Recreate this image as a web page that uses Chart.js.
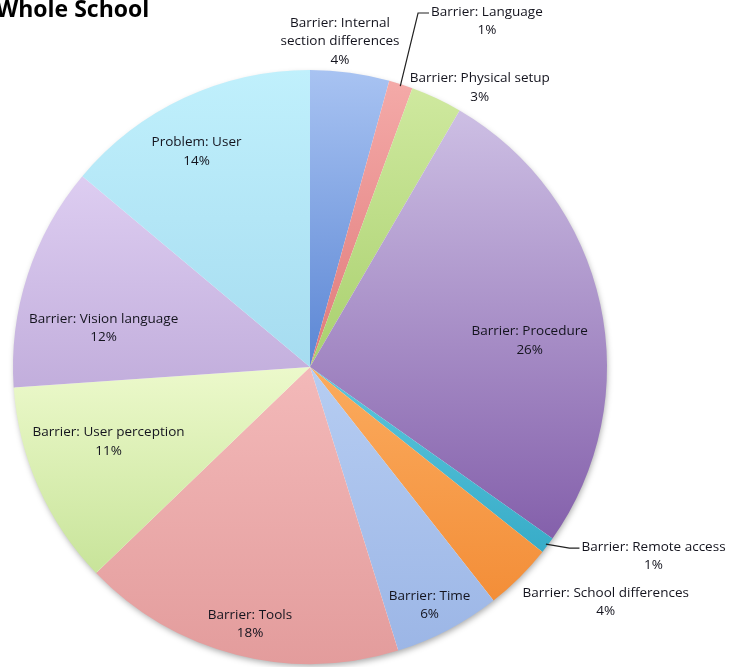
<!DOCTYPE html>
<html lang="en">
<head>
  <meta charset="UTF-8" />
  <title>Whole School</title>
  <script src="https://cdn.jsdelivr.net/npm/chart.js"></script>
  <style>
    html, body {
      margin: 0;
      padding: 0;
      background: #ffffff;
    }

    body {
      width: 732px;
      height: 667px;
      position: relative;
      overflow: hidden;
    }

    .chart-box {
      position: absolute;
      left: 0;
      top: 0;
      width: 732px;
      height: 667px;
    }

    .title {
      position: absolute;
      left: -4px;
      top: -3px;
      font-family: 'Open Sans', sans-serif;
      font-weight: 700;
      font-size: 23px;
      line-height: 23px;
      color: #000;
      white-space: nowrap;
    }
  </style>
</head>
<body>
  <div class="chart-box">
    <canvas id="pieChart" width="732" height="667"></canvas>
  </div>
  <div class="title">Whole School</div>

  <script>
    // Données (parts en %, sens horaire depuis midi)
    const categories = [
      'Barrier: Internal section differences',
      'Barrier: Language',
      'Barrier: Physical setup',
      'Barrier: Procedure',
      'Barrier: Remote access',
      'Barrier: School differences',
      'Barrier: Time',
      'Barrier: Tools',
      'Barrier: User perception',
      'Barrier: Vision language',
      'Problem: User'
    ];
    const shares = [4.3, 1.3, 2.8, 26.4, 0.9, 3.7, 5.8, 17.6, 11.1, 12.2, 13.9];

    // Couleurs : haut (clair) -> bas (foncé) de chaque part
    const lightColors = ['#a8c3f2', '#f4aaa8', '#cfe99f', '#cdbfe4', '#5cc6dc', '#fbab5e',
                         '#b6cdf2', '#f3b9b9', '#ecf9cb', '#ddcdf1', '#c0f0fc'];
    const darkColors  = ['#5b86d4', '#e07a7a', '#a9d06e', '#8460ab', '#38acc8', '#f38e38',
                         '#9cb6e6', '#e39c9c', '#c8e49a', '#c2aedc', '#a6dcf0'];

    // Placement des étiquettes (rayon relatif + décalage en px)
    const labelSpots = [
      { r: 1.10, dx: -14, dy: -2, wrap: 130 },
      { r: 1.00, dx: 86, dy: -63, leader: 13 },
      { r: 1.05, dx: 37, dy: 3 },
      { r: 0.75, dx: 2, dy: 21 },
      { r: 1.00, dx: 106, dy: 11, leader: 12 },
      { r: 1.15, dx: 55, dy: -7 },
      { r: 0.88, dx: -2, dy: 7 },
      { r: 0.88, dx: 5, dy: 4 },
      { r: 0.72, dx: -6, dy: -12 },
      { r: 0.72, dx: -3, dy: 27 },
      { r: 0.80, dx: -13, dy: 0 }
    ];

    const total = shares.reduce((a, b) => a + b, 0);

    function sliceFill(c) {
      const i = c.dataIndex;
      const area = c.chart.chartArea;
      if (!area) return lightColors[i];
      const cx = (area.left + area.right) / 2;
      const cy = (area.top + area.bottom) / 2;
      const R = Math.min(area.width, area.height) / 2;
      let before = 0;
      for (let k = 0; k < i; k++) before += shares[k];
      const a0 = -Math.PI / 2 + before / total * 2 * Math.PI;
      const a1 = a0 + shares[i] / total * 2 * Math.PI;
      const ys = [cy, cy + R * Math.sin(a0), cy + R * Math.sin(a1)];
      [-Math.PI / 2, Math.PI / 2, 3 * Math.PI / 2].forEach(t => {
        if (t >= a0 && t <= a1) ys.push(cy + R * Math.sin(t));
      });
      const y0 = Math.min(...ys), y1 = Math.max(...ys);
      const g = c.chart.ctx.createLinearGradient(0, y0, 0, Math.max(y1, y0 + 1));
      g.addColorStop(0, lightColors[i]);
      g.addColorStop(1, darkColors[i]);
      return g;
    }

    // Ombre sous le camembert
    const shadowPlugin = {
      id: 'pieShadow',
      beforeDatasetsDraw(chart) {
        const arc = chart.getDatasetMeta(0).data[0];
        if (!arc) return;
        const p = arc.getProps(['x', 'y', 'outerRadius'], true);
        const ctx = chart.ctx;
        ctx.save();
        ctx.beginPath();
        ctx.arc(p.x, p.y, p.outerRadius - 1, 0, Math.PI * 2);
        ctx.shadowColor = 'rgba(0, 0, 0, 0.35)';
        ctx.shadowBlur = 6;
        ctx.shadowOffsetX = 1;
        ctx.shadowOffsetY = 3;
        ctx.fillStyle = '#ffffff';
        ctx.fill();
        ctx.restore();
      }
    };

    function wrapText(ctx, text, maxW) {
      if (!maxW || ctx.measureText(text).width <= maxW) return [text];
      const words = text.split(' ');
      const lines = [];
      let cur = '';
      words.forEach(w => {
        const test = cur ? cur + ' ' + w : w;
        if (ctx.measureText(test).width > maxW && cur) {
          lines.push(cur);
          cur = w;
        } else {
          cur = test;
        }
      });
      if (cur) lines.push(cur);
      return lines;
    }

    // Étiquettes : nom + pourcentage
    const labelPlugin = {
      id: 'sliceLabels',
      afterDatasetsDraw(chart) {
        const ctx = chart.ctx;
        const lineH = 18.5;
        ctx.save();
        ctx.font = '13.5px "Open Sans", sans-serif';
        ctx.fillStyle = '#14141e';
        ctx.strokeStyle = '#222';
        ctx.lineWidth = 1.2;
        ctx.textAlign = 'center';
        ctx.textBaseline = 'middle';
        chart.getDatasetMeta(0).data.forEach((arc, i) => {
          const p = arc.getProps(['x', 'y', 'startAngle', 'endAngle', 'outerRadius'], true);
          const spot = labelSpots[i];
          const mid = (p.startAngle + p.endAngle) / 2;
          const lx = p.x + Math.cos(mid) * p.outerRadius * spot.r + spot.dx;
          const ly = p.y + Math.sin(mid) * p.outerRadius * spot.r + spot.dy;
          const lines = wrapText(ctx, categories[i], spot.wrap);
          lines.push(Math.round(shares[i]) + '%');
          const top = ly - (lines.length - 1) * lineH / 2;
          lines.forEach((t, k) => ctx.fillText(t, lx, top + k * lineH));

          if (spot.leader) {
            const w = Math.max(...lines.map(t => ctx.measureText(t).width));
            const left = lx - w / 2;
            const ex = p.x + Math.cos(mid) * (p.outerRadius - 2);
            const ey = p.y + Math.sin(mid) * (p.outerRadius - 2);
            ctx.beginPath();
            ctx.moveTo(ex, ey);
            ctx.lineTo(left - spot.leader, top + 1);
            ctx.lineTo(left - 2, top + 1);
            ctx.stroke();
          }
        });
        ctx.restore();
      }
    };

    const ctxPie = document.getElementById('pieChart').getContext('2d');
    new Chart(ctxPie, {
      type: 'pie',
      data: {
        labels: categories,
        datasets: [{
          data: shares,
          backgroundColor: sliceFill,
          borderWidth: 0,
          offset: 0,
          hoverOffset: 0
        }]
      },
      options: {
        responsive: false,
        animation: false,
        layout: {
          padding: { left: 13, right: 125, top: 70, bottom: 3 }
        },
        plugins: {
          legend: { display: false },
          tooltip: { enabled: false },
          title: { display: false }
        }
      },
      plugins: [shadowPlugin, labelPlugin]
    });
  </script>
</body>
</html>
